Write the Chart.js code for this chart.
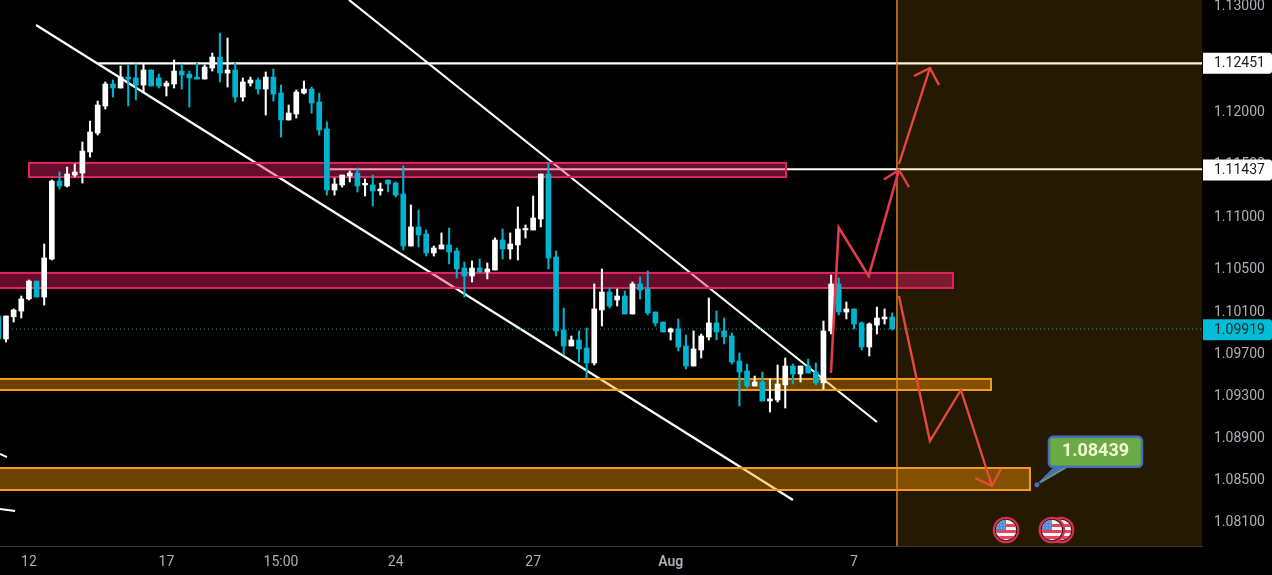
<!DOCTYPE html>
<html><head><meta charset="utf-8">
<style>html,body{margin:0;padding:0;background:#000;overflow:hidden}canvas{display:block}</style>
<script src="https://cdn.jsdelivr.net/npm/chart.js@4"></script>
</head><body><canvas id="c" width="1272" height="575" style="width:1272px;height:575px"></canvas>
<script>
const opens=[1.10043,1.09825,1.10036,1.10090,1.10205,1.10375,1.10223,1.10584,1.11325,1.11278,
1.11382,1.11401,1.11601,1.11781,1.12038,1.12247,1.12209,1.12313,1.12304,1.12237,
1.12380,1.12304,1.12228,1.12247,1.12370,1.12342,1.12313,1.12294,1.12399,1.12503,
1.12351,1.12380,1.12123,1.12256,1.12285,1.12199,1.12313,1.12161,1.11905,1.11962,
1.12161,1.12199,1.12076,1.11820,1.11240,1.11288,1.11373,1.11401,1.11288,1.11288,
1.11231,1.11335,1.11306,1.11202,1.10708,1.10889,1.10822,1.10642,1.10680,1.10718,
1.10661,1.10499,1.10423,1.10499,1.10461,1.10480,1.10765,1.10680,1.10718,1.10860,
1.10860,1.10965,1.11392,1.10604,1.09910,1.09758,1.09815,1.09739,1.09597,1.10100,
1.10271,1.10195,1.10233,1.10062,1.10347,1.10300,1.10081,1.09986,1.09891,1.09920,
1.09758,1.09568,1.09720,1.09844,1.09977,1.09901,1.09853,1.09616,1.09521,1.09378,
1.09416,1.09236,1.09245,1.09388,1.09568,1.09492,1.09568,1.09511,1.09407,1.09901,
1.10347,1.10081,1.10110,1.09977,1.09749,1.09957,1.10015,1.10033];
const highs=[1.10043,1.10043,1.10110,1.10233,1.10385,1.10375,1.10727,1.11335,1.11411,1.11458,
1.11487,1.11696,1.11895,1.12085,1.12266,1.12285,1.12418,1.12427,1.12437,1.12437,
1.12380,1.12342,1.12275,1.12475,1.12437,1.12370,1.12446,1.12427,1.12541,1.12731,
1.12684,1.12446,1.12304,1.12313,1.12304,1.12361,1.12389,1.12237,1.12047,1.12190,
1.12275,1.12218,1.12161,1.11886,1.11354,1.11382,1.11420,1.11449,1.11345,1.11382,
1.11306,1.11335,1.11316,1.11468,1.11098,1.11050,1.10860,1.10708,1.10832,1.10879,
1.10689,1.10556,1.10566,1.10584,1.10547,1.10784,1.10870,1.10832,1.11079,1.10908,
1.11183,1.11392,1.11497,1.10661,1.10119,1.09853,1.09901,1.09929,1.10347,1.10490,
1.10309,1.10300,1.10281,1.10366,1.10414,1.10471,1.10081,1.09986,1.09929,1.10015,
1.09863,1.09901,1.09872,1.10214,1.10091,1.10024,1.09882,1.09692,1.09587,1.09473,
1.09511,1.09445,1.09578,1.09644,1.09587,1.09568,1.09634,1.09597,1.09995,1.10432,
1.10404,1.10176,1.10110,1.09986,1.09977,1.10128,1.10110,1.10072];
const lows=[1.09825,1.09796,1.09986,1.10024,1.10195,1.10223,1.10147,1.10575,1.11249,1.11268,
1.11363,1.11306,1.11553,1.11762,1.12009,1.12123,1.12209,1.12038,1.12095,1.12171,
1.12228,1.12209,1.12133,1.12209,1.12199,1.12028,1.12294,1.12294,1.12370,1.12266,
1.12218,1.12076,1.12085,1.12228,1.12152,1.11952,1.12085,1.11743,1.11905,1.11924,
1.12152,1.11971,1.11762,1.11192,1.11192,1.11268,1.11316,1.11221,1.11183,1.11088,
1.11192,1.11221,1.11174,1.10670,1.10708,1.10699,1.10613,1.10613,1.10680,1.10537,
1.10404,1.10223,1.10366,1.10452,1.10395,1.10480,1.10584,1.10584,1.10575,1.10784,
1.10860,1.10889,1.10490,1.09853,1.09673,1.09758,1.09606,1.09454,1.09578,1.09948,
1.10119,1.10138,1.10062,1.10062,1.10205,1.10053,1.09948,1.09891,1.09815,1.09711,
1.09540,1.09568,1.09644,1.09815,1.09815,1.09777,1.09587,1.09188,1.09359,1.09378,
1.09236,1.09131,1.09226,1.09169,1.09397,1.09416,1.09501,1.09388,1.09349,1.09872,
1.10053,1.10015,1.09920,1.09720,1.09663,1.09872,1.09967,1.09910];
const closes=[1.09825,1.10043,1.10100,1.10205,1.10375,1.10223,1.10594,1.11325,1.11278,1.11392,
1.11411,1.11610,1.11791,1.12047,1.12247,1.12209,1.12313,1.12294,1.12237,1.12380,
1.12228,1.12228,1.12256,1.12370,1.12332,1.12304,1.12294,1.12408,1.12503,1.12351,
1.12380,1.12123,1.12266,1.12285,1.12199,1.12313,1.12152,1.11905,1.11971,1.12171,
1.12199,1.12066,1.11810,1.11240,1.11297,1.11382,1.11401,1.11278,1.11297,1.11231,
1.11249,1.11297,1.11192,1.10708,1.10889,1.10813,1.10642,1.10689,1.10718,1.10651,
1.10490,1.10423,1.10499,1.10461,1.10490,1.10765,1.10680,1.10727,1.10870,1.10870,
1.10974,1.11392,1.10594,1.09901,1.09758,1.09815,1.09730,1.09597,1.10110,1.10271,
1.10138,1.10233,1.10062,1.10347,1.10290,1.10072,1.09977,1.09891,1.09920,1.09749,
1.09568,1.09730,1.09853,1.09977,1.09891,1.09844,1.09606,1.09511,1.09378,1.09416,
1.09236,1.09255,1.09397,1.09568,1.09492,1.09568,1.09501,1.09407,1.09901,1.10347,
1.10081,1.10110,1.09967,1.09749,1.09967,1.10024,1.10033,1.09919];

const priceTicks=[1.13,1.12,1.115,1.11,1.105,1.101,1.097,1.093,1.089,1.085,1.081];
const timeTickAt=[4,22,37,52,70,88,112];
const timeTickLabels=["12","17","15:00","24","27","Aug","7"];
const xRange=[0.2147,157.55];
const yRange=[1.07858,1.13045];
const markedPrices=[1.12451,1.11437];
const lastPrice=1.09919;
const sessionStart=117.62;
const targetPrice=1.08439, targetAt=135.95;
const eventAt=[139.1,137.9,131.9];

const trendLower=[{x:4.93,y:1.12808},{x:104.01,y:1.08295}];
const trendUpper=[{x:45.9,y:1.13045},{x:115.0,y:1.09036}];
const stubA=[{x:0.21,y:1.08732},{x:1.13,y:1.08703}];
const stubB=[{x:0.21,y:1.08210},{x:2.18,y:1.08190}];
const levelTop=[{x:13.04,y:1.12442},{x:157.55,y:1.12442}];
const levelMid=[{x:43.4,y:1.11437},{x:157.55,y:1.11437}];
const lastLine=[{x:0.21,y:1.09919},{x:157.55,y:1.09919}];
const sessionLine=[{x:117.62,y:1.07858},{x:117.62,y:1.13045}];
const pathUp1=[{x:108.98,y:1.09501},{x:110.0,y:1.10884},{x:113.92,y:1.10423},{x:117.88,y:1.11430}];
const headUp1=[{x:115.92,y:1.11340},{x:117.88,y:1.11430},{x:119.2,y:1.11268}];
const pathUp2=[{x:117.88,y:1.11487},{x:121.94,y:1.12399}];
const headUp2=[{x:119.85,y:1.12323},{x:121.94,y:1.12399},{x:123.12,y:1.12237}];
const pathDown=[{x:117.88,y:1.10233},{x:121.94,y:1.08855},{x:125.99,y:1.09340},{x:130.06,y:1.08428}];
const headDown=[{x:127.83,y:1.08504},{x:130.06,y:1.08428},{x:131.24,y:1.08589}];

const pinkZones=[[4.01,103.1,1.11497,1.11363],[0.0,124.95,1.10452,1.10309]];
const orangeZones=[[0.0,129.93,1.09445,1.09340],[0.0,135.03,1.08599,1.08390]];

const UP='#ffffff',DOWN='#00b4d0';
const dirColor=opens.map((o,i)=>closes[i]>=o?UP:DOWN);
const wicks=opens.map((o,i)=>({x:i,y:[lows[i],highs[i]]}));
const bodies=opens.map((o,i)=>({x:i,y:[Math.min(o,closes[i]),Math.max(o,closes[i])]}));

function ln(data,color,width,order,extra){
  return Object.assign({type:'line',data,borderColor:color,borderWidth:width,pointRadius:0,order,tension:0,fill:false},extra||{});
}
const white='#ffffff',redA='#e23a4a',redB='#e8493a';
const FONT='Roboto, sans-serif';

const overlay={
  id:'overlay',
  beforeDatasetDraw(chart,args){
    if(chart.data.datasets[args.index].role!=='wicks')return;
    const {ctx,chartArea:a,scales:{x,y}}=chart;
    ctx.save();
    ctx.beginPath();ctx.rect(a.left,a.top,a.right-a.left,a.bottom-a.top);ctx.clip();
    ctx.fillStyle='rgba(255,165,30,0.15)';
    const sx=x.getPixelForValue(sessionStart);
    ctx.fillRect(sx,a.top,a.right-sx,a.bottom-a.top);
    const zone=(z,fill,stroke)=>{
      const l=x.getPixelForValue(z[0]),r=x.getPixelForValue(z[1]);
      const t=y.getPixelForValue(z[2]),b=y.getPixelForValue(z[3]);
      ctx.fillStyle=fill;ctx.fillRect(l,t,r-l,b-t);
      ctx.strokeStyle=stroke;ctx.lineWidth=2;ctx.strokeRect(l,t,r-l,b-t);
    };
    pinkZones.forEach(z=>zone(z,'rgba(233,30,99,0.44)','#e0245e'));
    orangeZones.forEach(z=>zone(z,'rgba(255,157,0,0.42)','#f59a1c'));
    ctx.restore();
  },
  afterDraw(chart){
    const {ctx,chartArea:a,scales:{x,y}}=chart;
    ctx.save();
    const box=(p,bg,fg)=>{
      const cy=y.getPixelForValue(p)+0.8;
      ctx.fillStyle=bg;
      ctx.beginPath();ctx.roundRect(a.right+1,cy-10.5,69,21,[0,3,3,0]);ctx.fill();
      ctx.fillStyle=fg;ctx.font='14px '+FONT;ctx.textAlign='left';ctx.textBaseline='middle';
      ctx.fillText(p.toFixed(5),a.right+12,cy+0.5);
    };
    markedPrices.forEach(p=>box(p,'#ffffff','#1a1a1a'));
    box(lastPrice,'#00bcd4','#1c2b30');
    const ax=x.getPixelForValue(targetAt),ay=y.getPixelForValue(targetPrice);
    const bx=ax+12,by=ay-48;
    ctx.fillStyle='#4a6fb5';
    ctx.beginPath();ctx.arc(ax,ay,2.5,0,Math.PI*2);ctx.fill();
    ctx.beginPath();ctx.moveTo(ax+2,ay-3);ctx.lineTo(bx+6,by+29);ctx.lineTo(bx+22,by+29);ctx.lineTo(ax+3,ay-1);ctx.closePath();ctx.fill();
    ctx.strokeStyle='#6aab46';ctx.lineWidth=1.2;
    ctx.beginPath();ctx.moveTo(ax+4,ay-3);ctx.lineTo(bx+18,by+30);ctx.stroke();
    ctx.fillStyle='#6aab46';ctx.strokeStyle='#4a6fb5';ctx.lineWidth=2.5;
    ctx.beginPath();ctx.roundRect(bx,by,93,30,4);ctx.fill();ctx.stroke();
    ctx.fillStyle='#f4f7cc';ctx.font='bold 18px '+FONT;ctx.textAlign='center';ctx.textBaseline='middle';
    ctx.fillText(targetPrice.toFixed(5),bx+46.5,by+14.5);
    eventAt.forEach(v=>{
      const cx=x.getPixelForValue(v),cy=530;
      ctx.fillStyle='#111';ctx.strokeStyle='#d9314a';ctx.lineWidth=2.2;
      ctx.beginPath();ctx.arc(cx,cy,12.2,0,Math.PI*2);ctx.fill();ctx.stroke();
      ctx.save();
      ctx.beginPath();ctx.arc(cx,cy,10.2,0,Math.PI*2);ctx.clip();
      ctx.fillStyle='#f4f4f4';ctx.fillRect(cx-11,cy-11,22,22);
      ctx.fillStyle='#e2455a';
      for(let k=0;k<3;k++)ctx.fillRect(cx-11,cy-6+k*6,22,3);
      ctx.fillStyle='#4a86d8';ctx.fillRect(cx-11,cy-11,11,11);
      ctx.fillStyle='#dfeaff';
      for(let r=0;r<3;r++)for(let c=0;c<3;c++)ctx.fillRect(cx-8.5+c*3,cy-8.5+r*3,1,1);
      ctx.restore();
    });
    ctx.restore();
  }
};

new Chart(document.getElementById('c'),{
  type:'bar',
  data:{datasets:[
    ln(stubA,white,2,10),ln(stubB,white,2,10),
    ln(trendLower,white,2.2,10),ln(trendUpper,white,2.2,10),
    ln(levelTop,white,2.2,10),ln(levelMid,white,2.2,10),
    ln(lastLine,'#2aa394',1,9,{borderDash:[1,3]}),
    {role:'wicks',type:'bar',data:wicks,backgroundColor:dirColor,maxBarThickness:1.4,barPercentage:1,categoryPercentage:1,grouped:false,order:5},
    {type:'bar',data:bodies,backgroundColor:dirColor,maxBarThickness:5,minBarLength:1.6,barPercentage:1,categoryPercentage:1,grouped:false,order:4},
    ln(sessionLine,'#e88d1e',1.4,3),
    ln(pathUp1,redA,2.6,2),ln(headUp1,redA,2.4,2),
    ln(pathUp2,redB,2.4,2),ln(headUp2,redB,2.4,2),
    ln(pathDown,redB,2.4,2),ln(headDown,redB,2.4,2)
  ]},
  options:{
    responsive:false,animation:false,
    devicePixelRatio:1,
    layout:{padding:0},
    plugins:{legend:{display:false},tooltip:{enabled:false}},
    scales:{
      x:{type:'linear',min:xRange[0],max:xRange[1],offset:false,
        grid:{display:false,drawTicks:false,offset:false},
        border:{display:true,color:'#3a3a3a',width:1},
        afterBuildTicks(s){s.ticks=timeTickAt.map(v=>({value:v}));},
        afterFit(s){s.height=29;s.paddingLeft=0;s.paddingRight=0;s.paddingTop=0;s.paddingBottom=0;},
        ticks:{autoSkip:false,maxRotation:0,padding:8,color:'#aeb0b5',
          font:c=>({family:FONT,size:14,weight:(c.tick&&c.tick.value===88)?'600':'400'}),
          callback:v=>timeTickLabels[timeTickAt.indexOf(v)]}},
      y:{type:'linear',position:'right',min:yRange[0],max:yRange[1],
        grid:{display:false,drawTicks:false},border:{display:false},
        afterBuildTicks(s){s.ticks=priceTicks.map(v=>({value:v}));},
        afterFit(s){s.width=70;s.paddingTop=0;s.paddingBottom=0;s.paddingLeft=0;s.paddingRight=0;},
        ticks:{autoSkip:false,padding:12,labelOffset:2,color:'#aeb0b5',font:{family:FONT,size:14},
          callback:v=>Number(v).toFixed(5)}}
    }
  },
  plugins:[overlay]
});
</script></body></html>
